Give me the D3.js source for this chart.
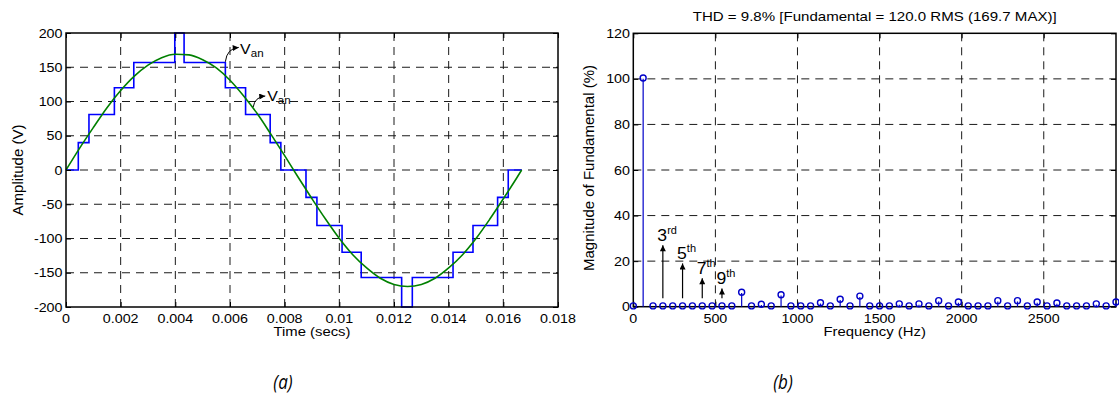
<!DOCTYPE html>
<html lang="en">
<head>
    <meta charset="UTF-8">
    <title>Multilevel inverter output and harmonic spectrum</title>
    <style>
        body {
            margin: 0;
            padding: 0;
            background-color: #fff;
        }

        svg text {
            font-family: "Liberation Sans", Arial, sans-serif;
            fill: #000;
        }

        .grid line {
            stroke: #1a1a1a;
            stroke-width: 1;
            stroke-dasharray: 8, 6;
        }

        .ticks path {
            display: none;
        }

        .ticks line {
            stroke: #000;
            stroke-width: 1;
        }

        .caption {
            font-family: "Open Sans", "DejaVu Sans", sans-serif !important;
            font-style: italic;
        }
    </style>
</head>
<body>

<svg width="1119" height="416" id="chart"></svg>

<script src="https://d3js.org/d3.v7.min.js"></script>
<script>
    // ---- (a) stepped output voltage and reference sine ----
    const stepTimes = [0, 0.00045, 0.00084, 0.00177, 0.00248, 0.00398, 0.00432, 0.00583, 0.00657, 0.00747, 0.00786,
        0.00878, 0.00918, 0.01010, 0.01080, 0.01228, 0.01267, 0.01416, 0.01489, 0.01579, 0.01618, 0.01667];
    const stepLevels = [0, 40, 81, 120, 157, 200, 157, 120, 81, 40, 0,
        -40, -81, -120, -157, -200, -157, -120, -81, -40, 0];

    const sineTimes = [0, 0.0005, 0.001, 0.0015, 0.002, 0.0025, 0.003, 0.0035, 0.004, 0.0045, 0.005, 0.0055,
        0.006, 0.0065, 0.007, 0.0075, 0.008, 0.0085, 0.009, 0.0095, 0.010, 0.0105, 0.011, 0.0115, 0.012,
        0.0125, 0.013, 0.0135, 0.014, 0.0145, 0.015, 0.0155, 0.016, 0.0165, 0.01667];
    const sineVolts = [0, 32, 62, 91, 116, 137, 153, 164, 169, 168, 161, 149,
        131, 108, 82, 52, 21, -11, -42, -72, -100, -124, -143, -158, -167,
        -170, -167, -158, -143, -124, -100, -72, -42, -11, 0];

    const timeTicks = [0, 0.002, 0.004, 0.006, 0.008, 0.01, 0.012, 0.014, 0.016, 0.018];
    const timeTickLabels = ["0", "0.002", "0.004", "0.006", "0.008", "0.01", "0.012", "0.014", "0.016", "0.018"];
    const voltTicks = [-200, -150, -100, -50, 0, 50, 100, 150, 200];

    // ---- (b) harmonic spectrum ----
    const freqs = [0, 60, 120, 180, 240, 300, 360, 420, 480, 540, 600, 660, 720, 780, 840, 900, 960, 1020,
        1080, 1140, 1200, 1260, 1320, 1380, 1440, 1500, 1560, 1620, 1680, 1740, 1800, 1860, 1920, 1980,
        2040, 2100, 2160, 2220, 2280, 2340, 2400, 2460, 2520, 2580, 2640, 2700, 2760, 2820, 2880, 2940];
    const magnitudes = [0, 100, 0, 0, 0, 0, 0, 0, 0, 0, 0, 6.0, 0, 0.7, 0, 4.9, 0, 0,
        0, 1.4, 0, 2.9, 0, 4.3, 0, 0, 0, 0.9, 0, 0.9, 0, 2.3, 0, 1.7,
        0, 0, 0, 2.3, 0, 2.3, 0, 1.7, 0, 1.3, 0, 0, 0, 0.9, 0, 1.7];

    const freqTicks = [0, 500, 1000, 1500, 2000, 2500];
    const magTicks = [0, 20, 40, 60, 80, 100, 120];

    const harmonicNames = ["3", "5", "7", "9"];
    const harmonicSuffix = ["rd", "th", "th", "th"];
    const harmonicFreqs = [180, 300, 420, 540];
    const arrowTops = [27, 19, 12.5, 8];

    const SX = 1.1;   // text in the source figure is slightly stretched sideways

    const svg = d3.select("#chart");

    svg.append("defs").append("marker")
        .attr("id", "head")
        .attr("markerUnits", "userSpaceOnUse")
        .attr("viewBox", "0 0 10 10")
        .attr("refX", 10).attr("refY", 5)
        .attr("markerWidth", 7).attr("markerHeight", 6)
        .attr("orient", "auto")
        .append("path")
        .attr("d", "M0,0 L10,5 L0,10 z")
        .attr("fill", "#000");

    function label(g, x, y, str, anchor, size) {
        return g.append("text")
            .attr("transform", `translate(${x},${y}) scale(${SX},1)`)
            .attr("text-anchor", anchor)
            .style("font-size", size + "px")
            .text(str);
    }

    function frame(g, x, y, xTicks, yTicks) {
        const [x0, x1] = x.range();
        const [y0, y1] = y.range();

        const grid = g.append("g").attr("class", "grid");
        grid.selectAll(".gx")
            .data(xTicks.filter(d => x(d) > x0 + 1 && x(d) < x1 - 1))
            .enter().append("line")
            .attr("x1", d => x(d)).attr("x2", d => x(d))
            .attr("y1", y1).attr("y2", y0);
        grid.selectAll(".gy")
            .data(yTicks.filter(d => y(d) < y0 - 1 && y(d) > y1 + 1))
            .enter().append("line")
            .attr("x1", x0).attr("x2", x1)
            .attr("y1", d => y(d)).attr("y2", d => y(d));
    }

    function box(g, x, y, xTicks, yTicks) {
        const [x0, x1] = x.range();
        const [y0, y1] = y.range();

        g.append("g").attr("class", "ticks").attr("transform", `translate(0,${y0})`)
            .call(d3.axisBottom(x).tickValues(xTicks).tickSize(-5).tickFormat(""));
        g.append("g").attr("class", "ticks").attr("transform", `translate(0,${y1})`)
            .call(d3.axisTop(x).tickValues(xTicks).tickSize(-5).tickFormat(""));
        g.append("g").attr("class", "ticks").attr("transform", `translate(${x0},0)`)
            .call(d3.axisLeft(y).tickValues(yTicks).tickSize(-5).tickFormat(""));
        g.append("g").attr("class", "ticks").attr("transform", `translate(${x1},0)`)
            .call(d3.axisRight(y).tickValues(yTicks).tickSize(-5).tickFormat(""));

        g.append("rect")
            .attr("x", x0).attr("y", y1)
            .attr("width", x1 - x0).attr("height", y0 - y1)
            .attr("fill", "none")
            .attr("stroke", "#000")
            .attr("stroke-width", 1.5);
    }

    // ================= panel (a) =================
    const xA = d3.scaleLinear().domain([0, 0.018]).range([66, 558]);
    const yA = d3.scaleLinear().domain([-200, 200]).range([307, 33]);
    const gA = svg.append("g");

    frame(gA, xA, yA, timeTicks, voltTicks);

    const stepData = stepLevels.map((v, i) => ({t: stepTimes[i], v: v}));
    stepData.push({t: stepTimes[stepTimes.length - 1], v: stepLevels[stepLevels.length - 1]});

    gA.append("path")
        .datum(stepData)
        .attr("fill", "none")
        .attr("stroke", "#0000ff")
        .attr("stroke-width", 1.6)
        .attr("d", d3.line().x(d => xA(d.t)).y(d => yA(d.v)).curve(d3.curveStepAfter));

    gA.append("path")
        .datum(sineTimes.map((t, i) => ({t: t, v: sineVolts[i]})))
        .attr("fill", "none")
        .attr("stroke", "#008000")
        .attr("stroke-width", 1.6)
        .attr("d", d3.line().x(d => xA(d.t)).y(d => yA(d.v)).curve(d3.curveMonotoneX));

    box(gA, xA, yA, timeTicks, voltTicks);

    timeTicks.forEach((t, i) => label(gA, xA(t), 322.5, timeTickLabels[i], "middle", 13));
    voltTicks.forEach(v => label(gA, 62.5, yA(v) + 4.5, String(v), "end", 13));

    label(gA, 312, 336, "Time (secs)", "middle", 13.5);
    gA.append("text")
        .attr("transform", `translate(23,170) rotate(-90)`)
        .attr("text-anchor", "middle")
        .style("font-size", "15px")
        .text("Amplitude (V)");

    // V_an call-outs: [arrow start t, v], [tip t, v], [text t, v]
    const calloutStart = [[0.00583, 158], [0.00685, 92]];
    const calloutTip = [[0.00632, 179], [0.00729, 108]];
    const calloutText = [[0.00637, 170], [0.00736, 101]];

    calloutStart.forEach((s, i) => {
        const x0 = xA(s[0]), y0 = yA(s[1]);
        const x1 = xA(calloutTip[i][0]), y1 = yA(calloutTip[i][1]);
        const p = d3.path();
        p.moveTo(x0, y0);
        p.quadraticCurveTo(x0 + 1.5, y1 + 1, x1, y1);
        gA.append("path")
            .attr("d", p.toString())
            .attr("fill", "none")
            .attr("stroke", "#000")
            .attr("stroke-width", 1)
            .attr("marker-end", "url(#head)");

        const txt = gA.append("text")
            .attr("transform", `translate(${xA(calloutText[i][0])},${yA(calloutText[i][1])}) scale(${SX},1)`)
            .style("font-size", "14.5px");
        txt.append("tspan").text("V");
        txt.append("tspan").attr("dy", 3).style("font-size", "10.5px").text("an");
    });

    // ================= panel (b) =================
    const xB = d3.scaleLinear().domain([0, 2940]).range([633.3, 1116]);
    const yB = d3.scaleLinear().domain([0, 120]).range([306.7, 33.3]);
    const gB = svg.append("g");

    frame(gB, xB, yB, freqTicks, magTicks);
    box(gB, xB, yB, freqTicks, magTicks);

    const stemColor = "#0000c8";
    gB.selectAll(".stem")
        .data(freqs)
        .enter().append("line")
        .attr("x1", d => xB(d)).attr("x2", d => xB(d))
        .attr("y1", yB(0))
        .attr("y2", (d, i) => yB(magnitudes[i]))
        .attr("stroke", stemColor)
        .attr("stroke-width", 1.2);

    gB.selectAll(".dot")
        .data(freqs)
        .enter().append("circle")
        .attr("cx", d => xB(d))
        .attr("cy", (d, i) => yB(magnitudes[i]) - 0.8)
        .attr("r", 3)
        .attr("fill", "none")
        .attr("stroke", stemColor)
        .attr("stroke-width", 1.4);

    freqTicks.forEach(f => label(gB, xB(f), 322.5, String(f), "middle", 13));
    magTicks.forEach(m => label(gB, 630, yB(m) + 4.5, String(m), "end", 13));

    label(gB, 874.7, 336, "Frequency (Hz)", "middle", 13.5);
    gB.append("text")
        .attr("transform", `translate(594,168) rotate(-90)`)
        .attr("text-anchor", "middle")
        .style("font-size", "15px")
        .text("Magnitude of Fundamental (%)");

    gB.append("text")
        .attr("x", 874.7).attr("y", 20.5)
        .attr("text-anchor", "middle")
        .attr("textLength", 364)
        .attr("lengthAdjust", "spacingAndGlyphs")
        .style("font-size", "13.5px")
        .text("THD = 9.8% [Fundamental = 120.0 RMS (169.7 MAX)]");

    // harmonic arrows
    harmonicFreqs.forEach((f, i) => {
        gB.append("line")
            .attr("x1", xB(f)).attr("x2", xB(f))
            .attr("y1", yB(3.7)).attr("y2", yB(arrowTops[i]))
            .attr("stroke", "#000")
            .attr("stroke-width", 1.2)
            .attr("marker-end", "url(#head)");

        const txt = gB.append("text")
            .attr("transform", `translate(${xB(f) - 5.5},${yB(arrowTops[i]) - 4.5}) scale(${SX},1)`)
            .style("font-size", "16px");
        txt.append("tspan").text(harmonicNames[i]);
        txt.append("tspan").attr("dy", -7).style("font-size", "10px").text(harmonicSuffix[i]);
    });

    // sub-figure captions
    svg.selectAll(".caption")
        .data(["(a)", "(b)"])
        .enter().append("text")
        .attr("class", "caption")
        .attr("transform", (d, i) => `translate(${i === 0 ? 283 : 783},389) scale(0.85,1)`)
        .attr("text-anchor", "middle")
        .style("font-size", "20px")
        .text(d => d);
</script>

</body>
</html>
